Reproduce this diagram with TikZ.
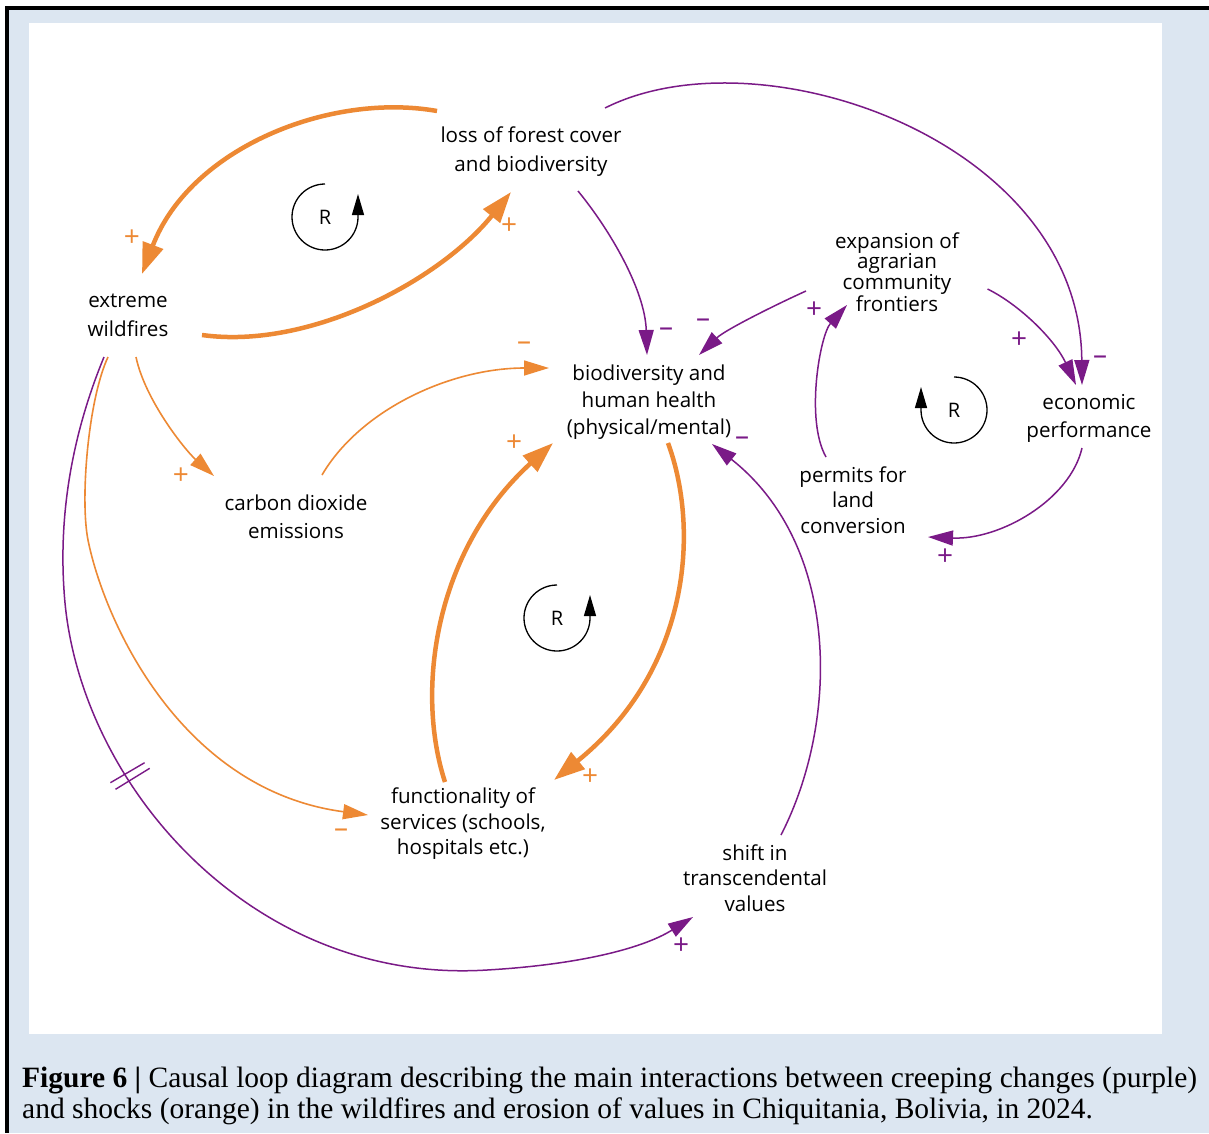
\documentclass[tikz,border=0pt]{standalone}
\usepackage{fontspec}
\usetikzlibrary{arrows.meta,calc}
\newfontfamily\osans{Open Sans}
\newfontfamily\capfont{Liberation Serif}
\definecolor{shock}{RGB}{237,137,52}
\definecolor{creep}{RGB}{122,26,135}
\definecolor{panelblue}{RGB}{220,230,241}
\tikzset{
  var/.style={font=\osans\fontsize{20.6}{27}\selectfont, align=center, inner sep=0pt, text=black},
  varwide/.style={font=\osans\fontsize{20.6}{28.5}\selectfont, align=center, inner sep=0pt, text=black},
  varnarrow/.style={font=\osans\fontsize{20.6}{25.5}\selectfont, align=center, inner sep=0pt, text=black},
  tightvar/.style={font=\osans\fontsize{20.6}{20.5}\selectfont, align=center, inner sep=0pt, text=black},
  sgn/.style={font=\osans\fontsize{28}{28}\selectfont, inner sep=0pt},
  thickshock/.style={draw=shock, line width=4.5pt, -{Triangle[length=31pt,width=21pt]}},
  thinshock/.style={draw=shock, line width=1.6pt, -{Triangle[length=25pt,width=15pt]}},
  thincreep/.style={draw=creep, line width=1.5pt, -{Triangle[length=25pt,width=15pt]}},
  loopmark/.style={draw=black, line width=1.3pt, -{Triangle[length=21pt,width=12pt]}},
  rlabel/.style={font=\osans\fontsize{20}{22}\selectfont, inner sep=0pt},
  captext/.style={font=\capfont\fontsize{29.5}{31}\selectfont, inner sep=0pt, anchor=base west}
}
\begin{document}
\begin{tikzpicture}[x=1pt,y=-1pt]
\useasboundingbox (0,0) rectangle (1209,1133);
% frame
\fill[black] (5,6.3) rectangle (1209,9.7);
\fill[black] (5,6.3) rectangle (8.5,1133);
\fill[panelblue] (8.5,9.7) rectangle (1209,1133);
\fill[white] (28.7,22.7) rectangle (1162.3,1034);

% variables
\node[varwide] (loss) at (531,151.5) {loss of forest cover\\and biodiversity};
\node[varwide] (fire) at (128,315.5) {extreme\\wildfires};
\node[var] (bio) at (649,402) {biodiversity and\\human health\\(physical/mental)};
\node[varwide] (co2) at (296,517) {carbon dioxide\\emissions};
\node[tightvar] (exp) at (897,272) {expansion of\\agrarian\\community\\frontiers};
\node[varwide] (eco) at (1089,418.5) {economic\\performance};
\node[varnarrow] (perm) at (853,500) {permits for\\land\\conversion};
\node[varnarrow] (func) at (463,824) {functionality of\\services (schools,\\hospitals etc.)};
\node[varnarrow] (shift) at (755,878) {shift in\\transcendental\\values};

% thick orange loop
\draw[thickshock] ($(loss)+(-94,-40.5)$) .. controls (330,92) and (190,148) .. ($(fire)+(14,-41.5)$);
\draw[thickshock] ($(fire)+(74,19.5)$) .. controls (310,350) and (440,280) .. ($(loss)+(-20,40.5)$);
\draw[thickshock] ($(bio)+(19,41)$) .. controls (700,530) and (690,670) .. ($(func)+(91,-44)$);
\draw[thickshock] ($(func)+(-18,-42)$) .. controls (415,690) and (435,550) .. ($(bio)+(-96,41)$);

% thin orange
\draw[thinshock] ($(fire)+(8,41.5)$) .. controls (145,400) and (185,450) .. ($(co2)+(-82,-41)$);
\draw[thinshock] ($(co2)+(26,-42)$) .. controls (360,410) and (450,368) .. ($(bio)+(-100,-34)$);
\draw[thinshock] ($(fire)+(-20,41.5)$) .. controls (88,400) and (80,500) .. (88,540)
   .. controls (104,620) and (180,790) .. ($(func)+(-95,-9)$);

% purple
\draw[thincreep] ($(fire)+(-24,41.5)$) .. controls (78,420) and (58,500) .. (64,590)
   .. controls (75,780) and (250,985) .. (487,970)
   .. controls (573,965) and (640,950) .. ($(shift)+(-62,39)$);
\draw[creep, line width=1.4pt] (110.4,782.7) -- (144.6,762.7);
\draw[creep, line width=1.4pt] (115.5,789.3) -- (149.7,768.3);
\draw[thincreep] ($(loss)+(74,-43.5)$) .. controls (760,30) and (1080,140) .. ($(eco)+(-7,-33.5)$);
\draw[thincreep] ($(loss)+(47,39.5)$) .. controls (610,230) and (645,290) .. ($(bio)+(-2,-47)$);
\draw[thincreep] ($(exp)+(-91,19)$) .. controls (775,305) and (725,330) .. ($(bio)+(50,-47)$);
\draw[thincreep] ($(exp)+(90.5,17)$) .. controls (1020,305) and (1055,340) .. ($(eco)+(-13,-33.5)$);
\draw[thincreep] ($(perm)+(-27,-43)$) .. controls (805,420) and (820,335) .. ($(exp)+(-50,33)$);
\draw[thincreep] ($(eco)+(-7,29.5)$) .. controls (1070,500) and (1000,540) .. ($(perm)+(75,37)$);
\draw[thincreep] ($(shift)+(26,-43)$) .. controls (840,720) and (840,545) .. ($(bio)+(63,42)$);

% polarity signs
\node[sgn, text=shock] (s1) at (132,238) {+};
\node[sgn, text=shock] (s2) at (509,226) {+};
\node[sgn, text=creep] (s3) at (666,332) {–};
\node[sgn, text=creep] (s4) at (703,323) {–};
\node[sgn, text=creep] (s5) at (814,310) {+};
\node[sgn, text=creep] (s6) at (1019,340) {+};
\node[sgn, text=creep] (s7) at (1100,360) {–};
\node[sgn, text=shock] (s8) at (524,346) {–};
\node[sgn, text=shock] (s9) at (514,443) {+};
\node[sgn, text=creep] (s10) at (742,441) {–};
\node[sgn, text=shock] (s11) at (181,476) {+};
\node[sgn, text=shock] (s12) at (590,777) {+};
\node[sgn, text=shock] (s13) at (341,833) {–};
\node[sgn, text=creep] (s14) at (945,557) {+};
\node[sgn, text=creep] (s15) at (681,946) {+};

% reinforcing loop markers
\node[rlabel] (r1) at (325,217) {R};
\draw[loopmark] (325,184) arc[start angle=270, end angle=0, radius=33] -- ++(0,-23);
\node[rlabel] (r2) at (557,618) {R};
\draw[loopmark] (557,585) arc[start angle=270, end angle=0, radius=33] -- ++(0,-23);
\node[rlabel] (r3) at (954,410) {R};
\draw[loopmark] (954,377) arc[start angle=-90, end angle=180, radius=33] -- ++(0,-23);

% caption
\node[captext] (cap1) at (22,1087) {\textbf{Figure 6 |} Causal loop diagram describing the main interactions between creeping changes (purple)};
\node[captext] (cap2) at (22,1118) {and shocks (orange) in the wildfires and erosion of values in Chiquitania, Bolivia, in 2024.};
\end{tikzpicture}
\end{document}
